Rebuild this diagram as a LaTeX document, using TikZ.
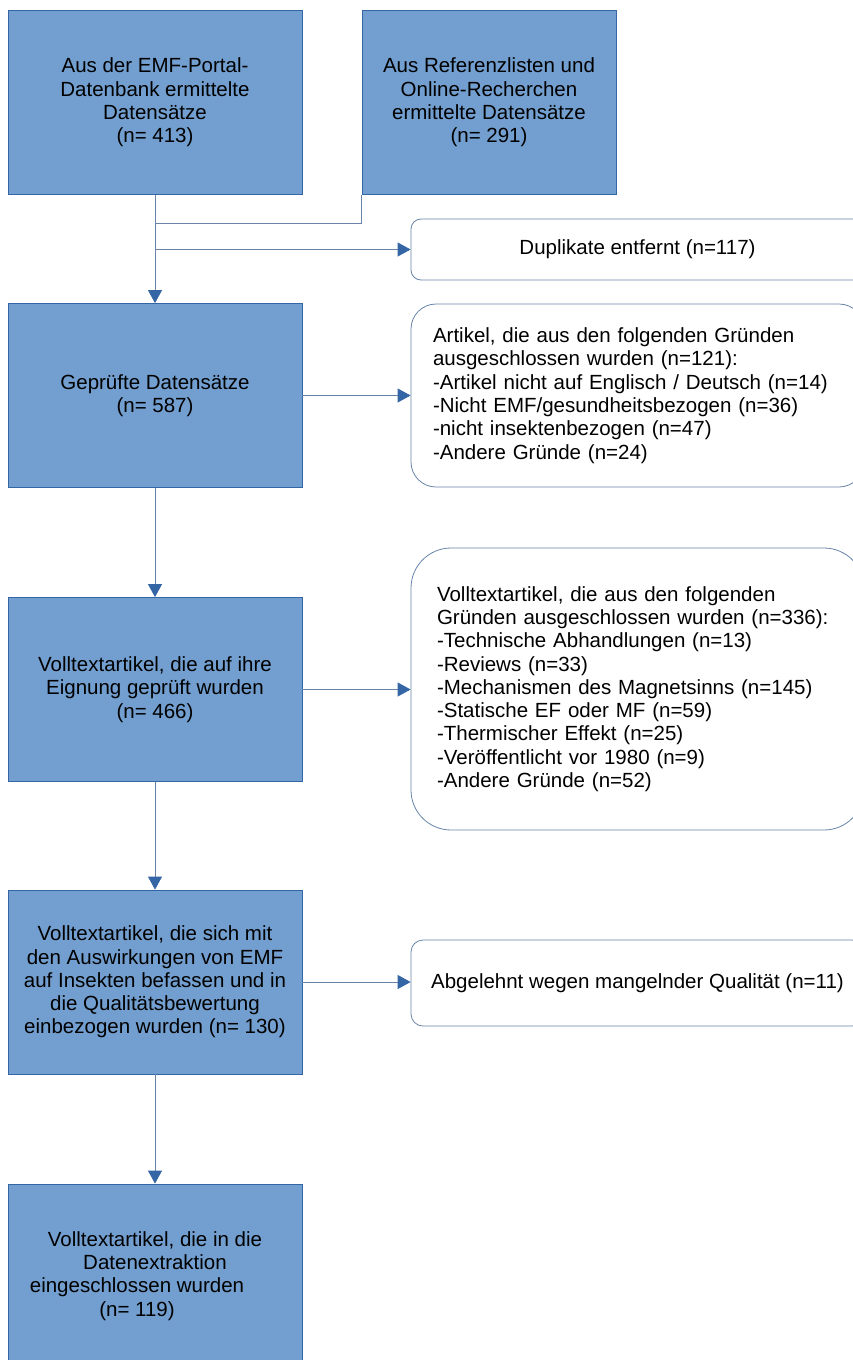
\documentclass[tikz,border=0pt]{standalone}
\usepackage{fontspec}
\setmainfont{Liberation Sans}
\usetikzlibrary{arrows.meta,calc}
\definecolor{BoxClr}{RGB}{114,159,207}
\definecolor{LineClr}{RGB}{52,101,164}
\definecolor{ThinClr}{RGB}{104,132,168}

\begin{document}
\begin{tikzpicture}[x=1pt,y=-1pt,
  every node/.style={font=\fontsize{20.5}{23.3}\selectfont,align=center},
  box/.style={draw=LineClr,fill=BoxClr,line width=0.8pt,minimum height=184pt,inner sep=0pt},
  note/.style={draw=ThinClr,line width=0.8pt,minimum width=453pt,inner sep=0pt},
  flow/.style={draw=ThinClr,line width=0.8pt},
  arr/.style={flow,-{Triangle[length=13pt,width=14pt,color=LineClr]}}]
\useasboundingbox (0,0) rectangle (853,1360);

\node[box,minimum width=294pt] (emf) at (155,102.5)
  {Aus der EMF-Portal-\\Datenbank ermittelte\\Datensätze\\(n= 413)};
\node[box,minimum width=254pt] (ref) at (489,102.5)
  {Aus Referenzlisten und\\Online-Recherchen\\ermittelte Datensätze\\(n= 291)};
\node[box,minimum width=294pt] (screen) at (155,395.5)
  {Geprüfte Datensätze\\(n= 587)};
\node[box,minimum width=294pt] (elig) at (155,689.5)
  {Volltextartikel, die auf ihre\\Eignung geprüft wurden\\(n= 466)};
\node[box,minimum width=294pt] (qual) at (155,982)
  {Volltextartikel, die sich mit\\den Auswirkungen von EMF\\auf Insekten befassen und in\\die Qualitätsbewertung\\einbezogen wurden (n= 130)};
\node[box,minimum width=294pt] (incl) at (155,1276)
  {Volltextartikel, die in die\\Datenextraktion\\eingeschlossen wurden\rule{36pt}{0pt}\\(n= 119)\rule{36pt}{0pt}};

\node[note,rounded corners=10pt,minimum height=61pt] (dup) at (637.5,249.5)
  {Duplikate entfernt (n=117)};
\node[note,rounded corners=25pt,minimum height=183pt,inner xsep=22pt,text width=409pt,align=left] (excl) at (637.5,395.5)
  {Artikel, die aus den folgenden Gründen\\ausgeschlossen wurden (n=121):\\-Artikel nicht auf Englisch / Deutsch (n=14)\\-Nicht EMF/gesundheitsbezogen (n=36)\\-nicht insektenbezogen (n=47)\\-Andere Gründe (n=24)};
\node[note,rounded corners=40pt,minimum height=282pt,inner xsep=26pt,text width=401pt,align=left] (fexcl) at (637.5,689)
  {Volltextartikel, die aus den folgenden\\Gründen ausgeschlossen wurden (n=336):\\-Technische Abhandlungen (n=13)\\-Reviews (n=33)\\-Mechanismen des Magnetsinns (n=145)\\-Statische EF oder MF (n=59)\\-Thermischer Effekt (n=25)\\-Veröffentlicht vor 1980 (n=9)\\-Andere Gründe (n=52)};
\node[note,rounded corners=12pt,minimum height=86pt] (rej) at (637.5,983)
  {Abgelehnt wegen mangelnder Qualität (n=11)};

\coordinate (join) at (emf.south |- 0,223);
\coordinate (split) at (emf.south |- dup.west);

\draw[flow] (ref.south west) |- (join);
\draw[arr] (emf.south) -- (screen.north);
\draw[arr] (split) -- (dup.west);
\draw[arr] (screen.east) -- (screen.east -| excl.west);
\draw[arr] (screen.south) -- (elig.north);
\draw[arr] (elig.east) -- (elig.east -| fexcl.west);
\draw[arr] (elig.south) -- (qual.north);
\draw[arr] (qual.east) -- (qual.east -| rej.west);
\draw[arr] (qual.south) -- (incl.north);

\end{tikzpicture}
\end{document}
